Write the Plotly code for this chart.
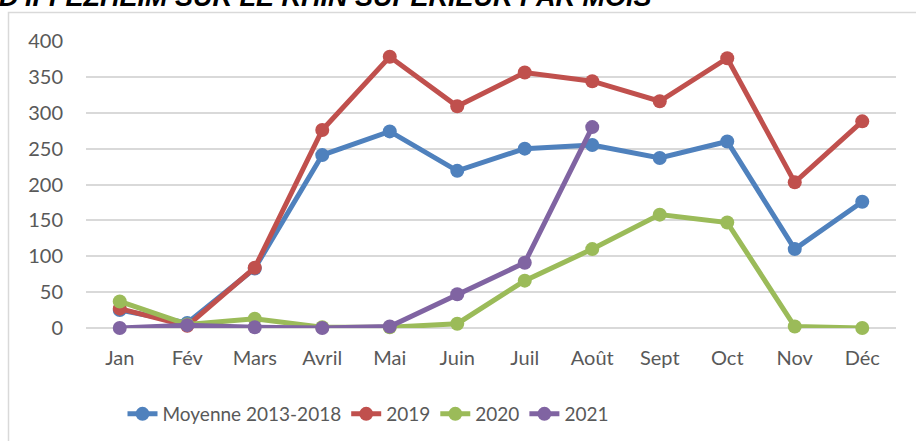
import plotly.graph_objects as go

months = ["Jan", "Fév", "Mars", "Avril", "Mai", "Juin", "Juil", "Août", "Sept", "Oct", "Nov", "Déc"]
moyenne = [25, 7, 83, 241, 274, 219, 250, 255, 237, 260, 110, 176]
y2019 = [27, 3, 84, 276, 378, 309, 356, 344, 316, 376, 203, 288]
y2020 = [37, 5, 13, 1, 1, 6, 66, 110, 158, 147, 2, 0]
y2021 = [0, 4, 1, 0, 2, 47, 91, 280, None, None, None, None]
y_ticks = [0, 50, 100, 150, 200, 250, 300, 350, 400]

series = [
    ("Moyenne 2013-2018", moyenne, "#4f81bd"),
    ("2019", y2019, "#c0504d"),
    ("2020", y2020, "#9bbb59"),
    ("2021", y2021, "#8064a2"),
]

fig = go.Figure()
for name, vals, col in series:
    fig.add_trace(go.Scatter(
        x=months, y=vals, name=name, mode="lines+markers",
        line=dict(color=col, width=5),
        marker=dict(color=col, size=14),
        cliponaxis=False,
    ))

W, H = 916, 441
L, R, T, B = 86, 20, 41, 113
pw, ph = W - L - R, H - T - B

fig.update_layout(
    width=W, height=H,
    margin=dict(l=L, r=R, t=T, b=B, pad=0, autoexpand=False),
    paper_bgcolor="white", plot_bgcolor="white",
    font=dict(family="Lato, Open Sans, sans-serif", size=20, color="#595959"),
    showlegend=True,
    legend=dict(orientation="h", x=(368 - L) / pw, xanchor="center",
                y=(T + ph - 414) / ph, yanchor="middle",
                font=dict(family="Liberation Sans Narrow, Lato", size=19, color="#595959"),
                traceorder="normal"),
    xaxis=dict(type="category", range=[-0.5, 11.5], showgrid=False,
               showline=False, zeroline=False, ticks="", automargin=False,
               ticklabelstandoff=16, fixedrange=True,
               tickfont=dict(size=20)),
    yaxis=dict(range=[0, 400], tickvals=y_ticks, showgrid=True, automargin=False,
               gridcolor="#d9d9d9", gridwidth=1.5, zeroline=True,
               zerolinecolor="#d9d9d9", zerolinewidth=1.5, showline=False,
               ticks="", ticklabelstandoff=22, tickfont=dict(size=20)),
)

fig.add_annotation(
    text="<b><i>D'IFFEZHEIM SUR LE RHIN SUPÉRIEUR PAR MOIS</i></b>",
    xref="paper", yref="paper", x=(-3 - L) / pw, xanchor="left",
    y=(T + ph - 14) / ph, yanchor="bottom", showarrow=False,
    font=dict(family="Liberation Sans Narrow, Arial Narrow, Liberation Sans", size=27, color="black"),
)

# Chart frame (top and left edges visible)
fig.add_shape(type="path", xref="paper", yref="paper",
              path=f"M {(8.5 - L) / pw},{(T + ph - 460) / ph} L {(8.5 - L) / pw},{(T + ph - 12.5) / ph} L {(930 - L) / pw},{(T + ph - 12.5) / ph}",
              line=dict(color="#d9d9d9", width=1.5), layer="below")

fig.write_html("out.html", config={"displayModeBar": False},
               post_script="document.body.style.margin='0';document.body.style.overflow='hidden';")
